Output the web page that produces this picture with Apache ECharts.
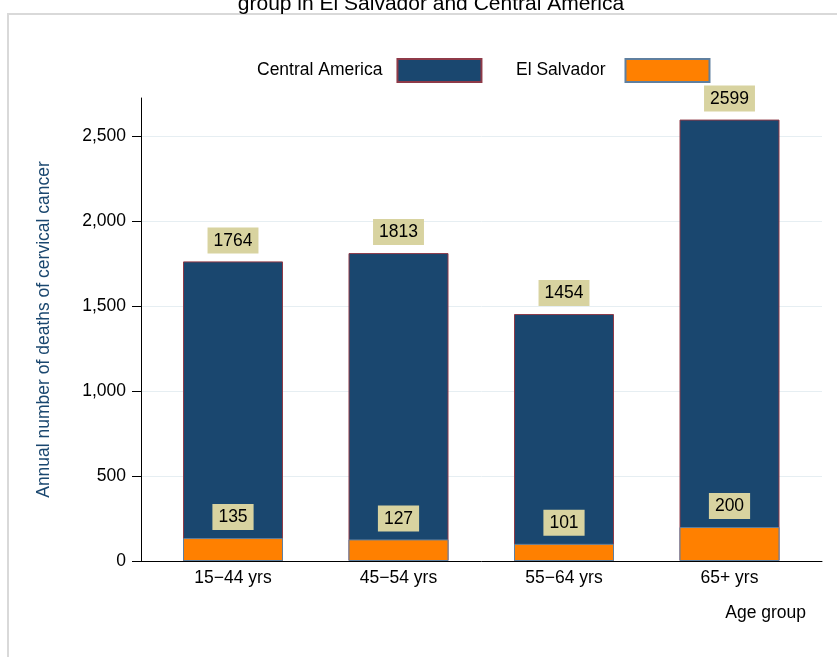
<!DOCTYPE html>
<html><head><meta charset="utf-8">
<script src="https://cdn.jsdelivr.net/npm/echarts@6/dist/echarts.min.js"></script>
<style>html,body{margin:0;padding:0;background:#fff}#c{width:837px;height:657px}</style>
</head><body><div id="c"></div>
<script>
const categories = ['15\u221244 yrs', '45\u221254 yrs', '55\u221264 yrs', '65+ yrs'];
const centralAmerica = [1764, 1813, 1454, 2599];
const elSalvador = [135, 127, 101, 200];
const yTicks = [0, 500, 1000, 1500, 2000, 2500];
const titleLine = 'group in El Salvador and Central America';

const FONT = "'Liberation Sans', Arial, sans-serif";
const NAVY = '#1a476f';
const ORANGE = '#ff8000';
const KHAKI = '#d8d3a0';
const YMAX = 2726;

const chart = echarts.init(document.getElementById('c'), null, {renderer: 'canvas'});
const labelStyle = {
  show: true, position: 'top', distance: 8, color: '#000',
  fontSize: 17.5, fontFamily: FONT, backgroundColor: KHAKI,
  padding: [4, 6, 3, 6], lineHeight: 19
};
chart.setOption({
  backgroundColor: '#fff',
  animation: false,
  graphic: [
    {type: 'rect', shape: {x: 8, y: 14, width: 900, height: 700}, style: {fill: 'none', stroke: '#d9d9d9', lineWidth: 2}, z: -10},
    {type: 'text', x: 431, y: 15, style: {text: titleLine, font: "21px 'Liberation Sans', Arial, sans-serif", fill: '#000', textAlign: 'center', textVerticalAlign: 'bottom'}},
    {type: 'text', x: 806, y: 613, style: {text: 'Age group', font: "17.5px 'Liberation Sans', Arial, sans-serif", fill: '#000', textAlign: 'right', textVerticalAlign: 'middle'}}
  ],
  legend: [
    {data: ['Central America'], left: 257, top: 58, align: 'right', icon: 'rect', itemWidth: 84, itemHeight: 23,
     textStyle: {fontSize: 17.5, fontFamily: FONT, color: '#000', padding: [0, 10, 0, 0]}, padding: 0},
    {data: ['El Salvador'], left: 516, top: 58, align: 'right', icon: 'rect', itemWidth: 84, itemHeight: 23,
     textStyle: {fontSize: 17.5, fontFamily: FONT, color: '#000', padding: [0, 15, 0, 0]}, padding: 0}
  ],
  grid: [
    {left: 141, right: 15, top: 98, bottom: 96},
    {left: 150.25, right: 24.75, top: 98, bottom: 96}
  ],
  xAxis: [
    {type: 'value', gridIndex: 0, min: 0, max: 1, axisLine: {show: true, lineStyle: {color: '#000', width: 1}},
     axisTick: {show: false}, axisLabel: {show: false}, splitLine: {show: false}},
    {type: 'category', gridIndex: 1, data: categories, axisLine: {show: false}, axisTick: {show: false},
     axisLabel: {color: '#000', fontSize: 17.5, fontFamily: FONT, margin: 8}}
  ],
  yAxis: [
    {type: 'value', gridIndex: 0, min: 0, max: YMAX, interval: 500,
     name: 'Annual number of deaths of cervical cancer', nameLocation: 'middle', nameGap: 88,
     nameTextStyle: {color: NAVY, fontSize: 17.5, fontFamily: FONT},
     axisLine: {show: true, lineStyle: {color: '#000', width: 1}},
     axisTick: {show: true, length: 9, lineStyle: {color: '#000'}, customValues: yTicks},
     axisLabel: {color: '#000', fontSize: 17.5, fontFamily: FONT, margin: 15, customValues: yTicks,
       formatter: v => Number(v).toLocaleString('en-US')},
     splitLine: {show: true, lineStyle: {color: '#e6eef2', width: 1}}},
    {type: 'value', gridIndex: 1, min: 0, max: YMAX, show: false, splitLine: {show: false}}
  ],
  series: [
    {name: 'Central America', type: 'bar', xAxisIndex: 1, yAxisIndex: 1, data: centralAmerica,
     barWidth: 100, barGap: '-100%',
     itemStyle: {color: NAVY, borderColor: '#8e3a48', borderWidth: 1},
     label: labelStyle},
    {name: 'El Salvador', type: 'bar', xAxisIndex: 1, yAxisIndex: 1, data: elSalvador,
     barWidth: 100, barGap: '-100%',
     itemStyle: {color: ORANGE, borderColor: '#5f7f9f', borderWidth: 1},
     label: labelStyle}
  ]
});
</script></body></html>
